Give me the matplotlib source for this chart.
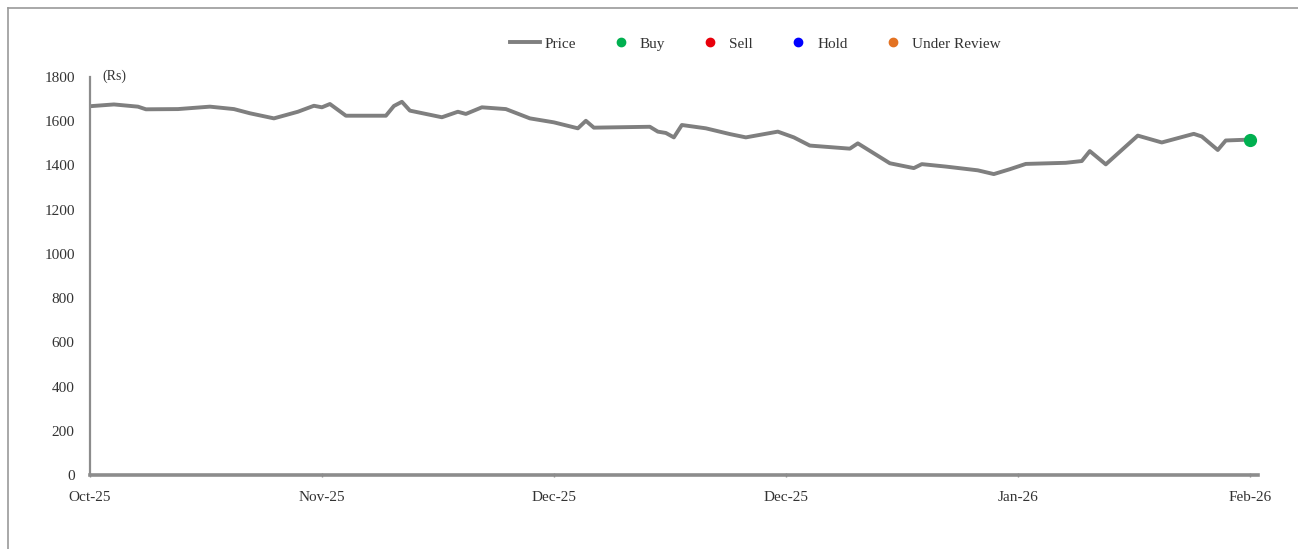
import numpy as np
import pandas as pd
import matplotlib
matplotlib.use('Agg')
import matplotlib.pyplot as plt
import matplotlib.dates as mdates
from matplotlib.lines import Line2D

# price series (date, Rs)
dates = ['2025-10-04', '2025-10-07', '2025-10-10', '2025-10-11', '2025-10-15',
         '2025-10-19', '2025-10-22', '2025-10-24', '2025-10-27', '2025-10-30',
         '2025-11-01', '2025-11-02', '2025-11-03', '2025-11-05', '2025-11-10',
         '2025-11-11', '2025-11-12', '2025-11-13', '2025-11-17', '2025-11-19',
         '2025-11-20', '2025-11-22', '2025-11-25', '2025-11-28', '2025-12-01',
         '2025-12-04', '2025-12-05', '2025-12-06', '2025-12-13', '2025-12-14',
         '2025-12-15', '2025-12-16', '2025-12-17', '2025-12-20', '2025-12-23',
         '2025-12-25', '2025-12-29', '2025-12-31', '2026-01-02', '2026-01-07',
         '2026-01-08', '2026-01-12', '2026-01-15', '2026-01-16', '2026-01-19',
         '2026-01-23', '2026-01-25', '2026-01-27', '2026-01-29', '2026-02-03',
         '2026-02-05', '2026-02-06', '2026-02-08', '2026-02-12', '2026-02-15',
         '2026-02-19', '2026-02-20', '2026-02-22', '2026-02-23', '2026-02-26']
price = [1668, 1676, 1666, 1654, 1655,
         1666, 1655, 1636, 1613, 1643,
         1670, 1663, 1678, 1625, 1625,
         1669, 1688, 1648, 1618, 1643,
         1633, 1663, 1655, 1613, 1595,
         1568, 1602, 1571, 1575, 1553,
         1547, 1527, 1583, 1568, 1542,
         1527, 1553, 1527, 1490, 1476,
         1500, 1410, 1388, 1406, 1395,
         1378, 1361, 1383, 1407, 1412,
         1420, 1465, 1405, 1535, 1504,
         1543, 1531, 1470, 1513, 1517]

buy_dates = ['2026-02-26']
buy_price = [1517]

tick_dates = ['2025-10-04', '2025-11-02', '2025-12-01',
              '2025-12-30', '2026-01-28', '2026-02-26']
y_ticks = [0, 200, 400, 600, 800, 1000, 1200, 1400, 1600, 1800]

legend_labels = ['Price', 'Buy', 'Sell', 'Hold', 'Under Review']
legend_colors = ['#7f7f7f', '#00b050', '#e8000b', '#0000ff', '#e37222']

plt.rcParams['font.family'] = ['Liberation Serif', 'DejaVu Serif']

fig = plt.figure(figsize=(12.98, 5.49), dpi=100)
ax = fig.add_axes([0.0693, 0.1348, 0.8997, 0.7249])

x = pd.to_datetime(dates)
ax.plot(x, price, color='#7f7f7f', lw=2.8, solid_joinstyle='round')
ax.plot(pd.to_datetime(buy_dates), buy_price, 'o', color='#00b050', ms=8.5)

ax.set_ylim(0, 1800)
ax.set_yticks(y_ticks)
ax.set_xlim(pd.Timestamp('2025-10-04'), pd.Timestamp('2026-02-27'))
ax.set_xticks(pd.to_datetime(tick_dates))
ax.xaxis.set_major_formatter(mdates.DateFormatter('%b-%y'))

for s in ['top', 'right']:
    ax.spines[s].set_visible(False)
ax.spines['left'].set_color('#8c8c8c')
ax.spines['left'].set_linewidth(1.6)
ax.spines['bottom'].set_color('#8c8c8c')
ax.spines['bottom'].set_linewidth(2.6)

ax.tick_params(axis='y', length=0, pad=11, labelsize=11, labelcolor='#333333')
ax.tick_params(axis='x', length=3, width=1, color='#8c8c8c', direction='inout',
               pad=10, labelsize=11, labelcolor='#333333')

fig.text(0.079, 0.862, '(Rs)', fontsize=10, color='#333333', ha='left', va='center')

handles = [Line2D([], [], color=legend_colors[0], lw=2.8)]
for c in legend_colors[1:]:
    handles.append(Line2D([], [], ls='', marker='o', ms=6, color=c))
fig.legend(handles, legend_labels, loc='center', bbox_to_anchor=(0.582, 0.92),
           ncol=5, frameon=False, fontsize=11, handlelength=1.9,
           columnspacing=2.0, handletextpad=0.3, labelcolor='#333333')

# outer frame of the picture (only top and left edges are visible)
fig.add_artist(Line2D([8 / 1298, 1], [1 - 8 / 549, 1 - 8 / 549],
                      transform=fig.transFigure, color='#9a9a9a', lw=1.2))
fig.add_artist(Line2D([8 / 1298, 8 / 1298], [0, 1 - 8 / 549],
                      transform=fig.transFigure, color='#9a9a9a', lw=1.2))

fig.savefig('out.png', dpi=100)
